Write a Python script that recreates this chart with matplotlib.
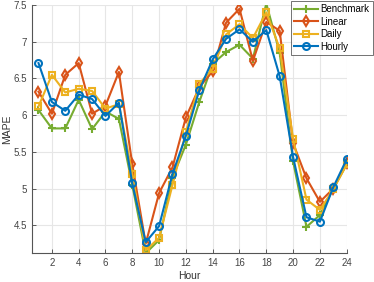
import numpy as np
import matplotlib
matplotlib.use("Agg")
import matplotlib.pyplot as plt

plt.rcParams['font.family'] = ['Liberation Sans', 'DejaVu Sans']

# MAPE per hour for each model
hours = np.arange(1, 25)
benchmark = [6.07, 5.82, 5.82, 6.21, 5.81, 6.05, 5.95, 5.05, 4.12, 4.30, 5.15, 5.60,
             6.18, 6.70, 6.86, 6.96, 6.77, 7.52, 6.85, 5.37, 4.48, 4.64, 5.00, 5.33]
linear = [6.32, 6.02, 6.55, 6.71, 6.02, 6.13, 6.59, 5.33, 4.25, 4.94, 5.29, 5.97,
          6.38, 6.60, 7.26, 7.45, 6.74, 7.27, 7.15, 5.62, 5.14, 4.82, 5.00, 5.35]
daily = [6.12, 6.55, 6.31, 6.36, 6.33, 6.09, 6.15, 5.20, 4.16, 4.33, 5.05, 5.77,
         6.43, 6.63, 7.10, 7.24, 7.05, 7.40, 6.91, 5.68, 4.85, 4.71, 4.99, 5.33]
hourly = [6.71, 6.18, 6.06, 6.28, 6.22, 5.99, 6.17, 5.07, 4.27, 4.49, 5.20, 5.72,
          6.34, 6.76, 7.04, 7.17, 7.00, 7.16, 6.53, 5.43, 4.61, 4.55, 5.02, 5.40]

series = [
    ("Benchmark", benchmark, "#77AC30", "+"),
    ("Linear", linear, "#D95319", "d"),
    ("Daily", daily, "#EDB120", "s"),
    ("Hourly", hourly, "#0072BD", "o"),
]

fig = plt.figure(figsize=(3.74, 2.82), dpi=100)
ax = fig.add_axes([0.085, 0.102, 0.842, 0.880])

for name, vals, col, mk in series:
    ax.plot(hours, vals, color=col, marker=mk, lw=1.5, ms=5 if mk != "+" else 6,
            mfc="none", mew=1.5, label=name)

ax.set_xlim(0.5, 24)
ax.set_ylim(4.12, 7.5)
ax.set_xticks(np.arange(2, 25, 2))
ax.set_yticks([4.5, 5, 5.5, 6, 6.5, 7, 7.5])
ax.set_yticklabels(["4.5", "5", "5.5", "6", "6.5", "7", "7.5"])
ax.grid(True, color="#e6e6e6", lw=0.8)
ax.set_axisbelow(True)
for s in ["top", "right"]:
    ax.spines[s].set_visible(False)
for s in ["left", "bottom"]:
    ax.spines[s].set_color("#555555")
    ax.spines[s].set_linewidth(0.8)
ax.tick_params(labelsize=7, colors="#444444", length=3, width=0.6, direction="in")
ax.set_xlabel("Hour", fontsize=7.5, color="#333333", labelpad=2)
ax.set_ylabel("MAPE", fontsize=7.5, color="#333333", labelpad=1)

leg = fig.legend(loc="upper left", bbox_to_anchor=(0.778, 0.997), fontsize=7,
                 frameon=True, fancybox=False, edgecolor="#333333",
                 handlelength=2.4, handletextpad=0.3, borderpad=0.35,
                 labelspacing=0.25, borderaxespad=0)
leg.get_frame().set_linewidth(0.6)

fig.savefig("out.png", dpi=100)
